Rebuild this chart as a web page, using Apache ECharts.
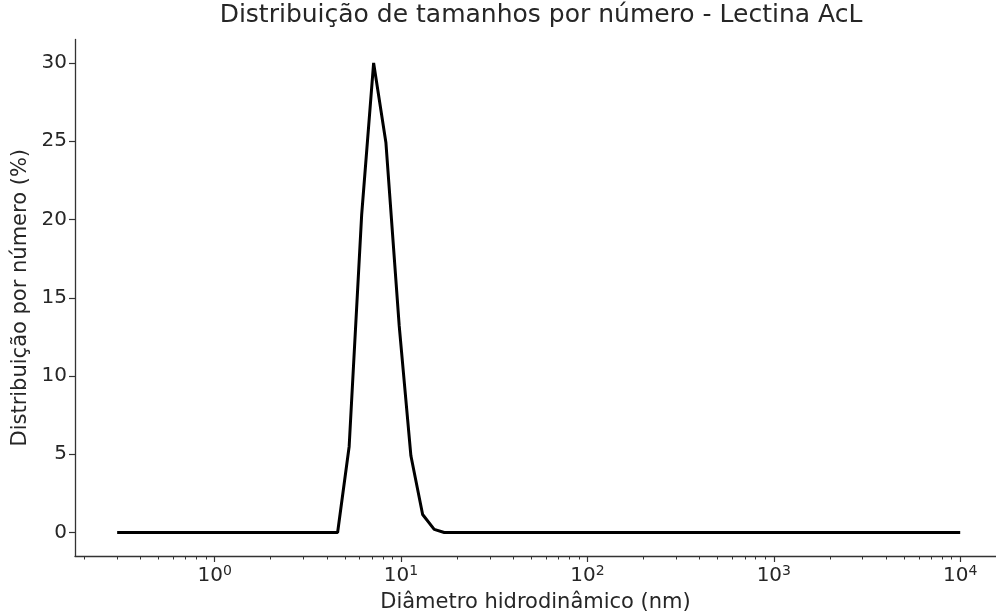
<!DOCTYPE html>
<html>
<head>
<meta charset="utf-8">
<script src="https://cdn.jsdelivr.net/npm/echarts@6/dist/echarts.min.js"></script>
<style>
  html, body { margin: 0; padding: 0; background: #fff; }
  #chart { width: 996px; height: 615px; }
</style>
</head>
<body>
<div id="chart"></div>
<script>
    // dados
    var diametros = [0.3, 4.57, 5.27, 6.15, 7.13, 8.3, 9.78, 11.3, 13.06, 15.07, 17.06, 10000];
    var percentuais = [0, 0, 5.5, 20.3, 30, 24.9, 13.2, 4.9, 1.15, 0.2, 0, 0];
    var ticksX = [1, 10, 100, 1000, 10000];
    var ticksY = [0, 5, 10, 15, 20, 25, 30];

    // ticks menores do eixo log (2..9 x 10^n)
    var ticksMenores = [];
    for (var e = -1; e <= 3; e++) {
        for (var k = 2; k <= 9; k++) {
            ticksMenores.push(k * Math.pow(10, e));
        }
    }

    var serie = [];
    for (var i = 0; i < diametros.length; i++) {
        serie.push([diametros[i], percentuais[i]]);
    }

    var corEixo = '#333';
    var corTexto = '#262626';
    var xMin = Math.pow(10, -0.749);
    var xMax = Math.pow(10, 4.192);

    var dom = document.getElementById("chart");
    var myChart = echarts.init(dom);
    var option = {
        animation: false,
        textStyle: { fontFamily: 'DejaVu Sans' },
        title: {
            text: 'Distribuição de tamanhos por número - Lectina AcL',
            left: 536,
            textAlign: 'center',
            top: -2,
            textStyle: { fontSize: 25, fontWeight: 'normal', color: corTexto, fontFamily: 'DejaVu Sans' }
        },
        grid: { left: 75, right: 0, top: 39.5, bottom: 59, outerBoundsMode: 'none', containLabel: false },
        xAxis: [{
            type: 'log',
            logBase: 10,
            min: xMin,
            max: xMax,
            name: 'Diâmetro hidrodinâmico (nm)',
            nameLocation: 'middle',
            nameGap: 36,
            nameTextStyle: { fontSize: 21, color: corTexto },
            splitLine: { show: false },
            axisLine: { onZero: false, lineStyle: { color: corEixo, width: 1.3 } },
            axisTick: { customValues: ticksX, length: 6, lineStyle: { color: corEixo, width: 1.2 } },
            axisLabel: {
                customValues: ticksX,
                margin: 8,
                formatter: function (v) {
                    return '{b|10}{s|' + Math.round(Math.log10(v)) + '}';
                },
                rich: {
                    b: { fontSize: 20, color: corTexto, fontFamily: 'DejaVu Sans' },
                    s: { fontSize: 14, color: corTexto, fontFamily: 'DejaVu Sans', padding: [0, 0, 10, 0] }
                }
            }
        }, {
            type: 'log',
            logBase: 10,
            min: xMin,
            max: xMax,
            position: 'bottom',
            axisLine: { show: false, onZero: false },
            splitLine: { show: false },
            axisLabel: { show: false },
            axisTick: { customValues: ticksMenores, length: 3.5, lineStyle: { color: corEixo, width: 1 } }
        }],
        yAxis: {
            type: 'value',
            min: -1.5,
            max: 31.5,
            name: 'Distribuição por número (%)',
            nameLocation: 'middle',
            nameGap: 43,
            nameTextStyle: { fontSize: 21, color: corTexto },
            splitLine: { show: false },
            axisLine: { show: true, onZero: false, lineStyle: { color: corEixo, width: 1.3 } },
            axisTick: { show: true, customValues: ticksY, length: 6, lineStyle: { color: corEixo, width: 1.2 } },
            axisLabel: { customValues: ticksY, fontSize: 20, color: corTexto, margin: 8 }
        },
        series: [{
            type: 'line',
            xAxisIndex: 0,
            data: serie,
            showSymbol: false,
            lineStyle: { color: '#000', width: 3 }
        }]
    };
    myChart.setOption(option);
</script>
</body>
</html>
